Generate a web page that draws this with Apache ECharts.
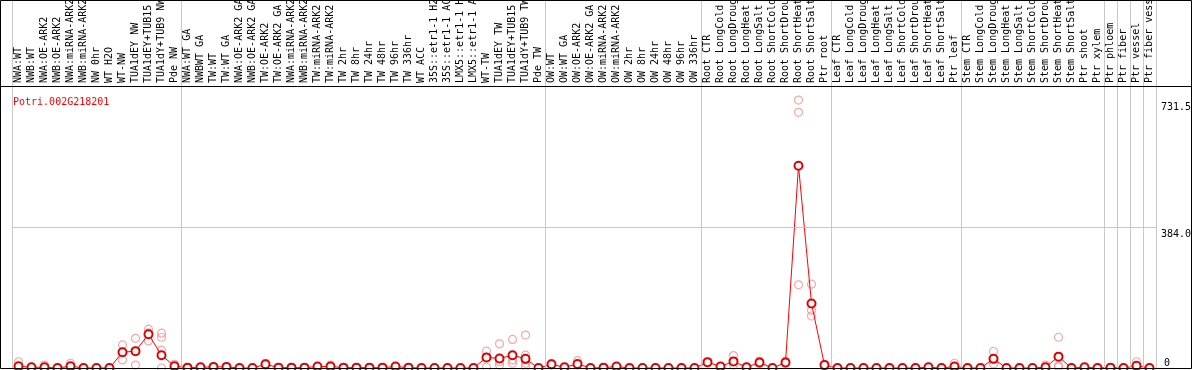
<!DOCTYPE html>
<html><head><meta charset="utf-8">
<script src="https://cdn.jsdelivr.net/npm/echarts@6/dist/echarts.min.js"></script>
<style>html,body{margin:0;padding:0;background:#fff}#c{width:1194px;height:370px}</style>
</head><body><div id="c"></div>
<script>
const geneId = 'Potri.002G218201';
const categories = [
  'NWA:WT','NWB:WT','NWA:OE-ARK2','NWB:OE-ARK2','NWA:miRNA-ARK2','NWB:miRNA-ARK2','NW 0hr','WT H2O','WT-NW','TUA1dEY NW','TUA1dEY+TUB15 NW','TUA1dY+TUB9 NW','Pde NW',
  'NWA:WT GA','NWBWT GA','TW:WT','TW:WT GA','NWA:OE-ARK2 GA','NWB:OE-ARK2 GA','TW:OE-ARK2','TW:OE-ARK2 GA','NWA:miRNA-ARK2 GA','NWB:miRNA-ARK2 GA','TW:miRNA-ARK2','TW:miRNA-ARK2',
  'TW 2hr','TW 8hr','TW 24hr','TW 48hr','TW 96hr','TW 336hr','WT ACC','35S::etr1-1 H2O','35S::etr1-1 ACC','LMX5::etr1-1 H2O','LMX5::etr1-1 ACC','WT-TW','TUA1dEY TW','TUA1dEY+TUB15 TW','TUA1dY+TUB9 TW','Pde TW',
  'OW:WT','OW:WT GA','OW:OE-ARK2','OW:OE-ARK2 GA','OW:miRNA-ARK2','OW:miRNA-ARK2','OW 2hr','OW 8hr','OW 24hr','OW 48hr','OW 96hr','OW 336hr',
  'Root CTR','Root LongCold','Root LongDrought','Root LongHeat','Root LongSalt','Root ShortCold','Root ShortDrought','Root ShortHeat','Root ShortSalt','Ptr root',
  'Leaf CTR','Leaf LongCold','Leaf LongDrought','Leaf LongHeat','Leaf LongSalt','Leaf ShortCold','Leaf ShortDrought','Leaf ShortHeat','Leaf ShortSalt','Ptr leaf',
  'Stem CTR','Stem LongCold','Stem LongDrought','Stem LongHeat','Stem LongSalt','Stem ShortCold','Stem ShortDrought','Stem ShortHeat','Stem ShortSalt','Ptr shoot','Ptr xylem',
  'Ptr phloem','Ptr fiber','Ptr vessel','Ptr fiber vessel'
];
const groupSizes = [13, 28, 12, 10, 10, 11, 1, 1, 1, 1];
const meanValues = [
  5,2,2,0,5,0,0,0,43,46,92,35,5,
  1,2,3,3,0,0,10,1,1,1,4,4,1,1,1,1,4,1,0,0,0,0,0,29,26,35,25,0,
  10,2,11,0,1,4,0,0,0,0,0,0,
  16,4,18,2,15,0,15,552,176,8,
  0,0,0,0,0,0,0,2,0,4,
  0,0,25,0,0,0,2,31,0,2,0,
  1,0,6,0
];
const replicateValues = [
  [17,2,0],[2,1],[8,0],[0],[13,3,0],[0],[0],[0],[63,45,22],[81,46,8],[106,96,74],[95,84,49,0],[10,3],
  [1],[2],[3],[3],[0],[0],[12,8],[1],[1],[1],[4],[8,1],[1],[1],[1],[1],[4],[1],[0],[0],[0],[0],[0],[46,29,2],[66,17,8],[78,22,13],[90,35,22,13,4],[0],
  [12,8],[2],[20,8],[0],[1],[4],[0],[0],[0],[0],[0],[0],
  [16,14],[4],[34,18,8],[2],[19,12],[0],[19,12],[731.5,698,227],[229,158,142],[10,4],
  [0],[0],[0],[0],[0],[0],[0],[2],[0],[13,0],
  [0],[0],[45,25,11],[0],[0],[0],[8,0],[84,6,3],[0],[2],[0],
  [1],[0],[17,2],[0]
];
const yTickValues = [384, 731.5];
const yTickLabels = ['384.0', '731.5'];
const yZeroLabel = '0';
const yMax = 770;

const FONT = 'DejaVu Sans Mono';
const boundaries = [0];
groupSizes.forEach(s => boundaries.push(boundaries[boundaries.length - 1] + s));
const repData = [];
replicateValues.forEach((arr, i) => arr.forEach(v => repData.push([i, v])));

const chart = echarts.init(document.getElementById('c'), null, {renderer: 'canvas'});
chart.setOption({
  animation: false,
  backgroundColor: '#fff',
  title: {text: geneId, left: 8, top: 92, textStyle: {color: '#ff0000', fontFamily: FONT, fontSize: 10, fontWeight: 'normal'}},
  grid: [
    {left: 12, right: 38, top: 86, bottom: 2, containLabel: false, outerBoundsMode: 'none'},
    {left: 12, right: 38, top: 0, bottom: 2, containLabel: false, outerBoundsMode: 'none'}
  ],
  xAxis: [
    {type: 'category', gridIndex: 0, position: 'top', data: categories, boundaryGap: true,
     axisLine: {show: true, lineStyle: {color: '#000', width: 1}}, axisTick: {show: false}, splitLine: {show: false},
     axisLabel: {rotate: 90, interval: 0, margin: 3, fontFamily: FONT, fontSize: 10, color: '#000', hideOverlap: false}},
    {type: 'value', gridIndex: 1, min: 0, max: categories.length, show: false}
  ],
  yAxis: [
    {type: 'value', gridIndex: 0, min: 0, max: yMax, position: 'right',
     axisLine: {show: false}, axisTick: {show: false}, splitLine: {show: false},
     axisLabel: {customValues: yTickValues, formatter: v => yTickLabels[yTickValues.indexOf(v)] || '', verticalAlign: 'top', align: 'left', margin: 5, padding: [2, 0, 0, 0], fontFamily: FONT, fontSize: 10, color: '#000'}},
    {type: 'value', gridIndex: 0, min: 0, max: yMax, position: 'right',
     axisLine: {show: false}, axisTick: {show: false}, splitLine: {show: false},
     axisLabel: {customValues: [0], formatter: () => yZeroLabel, verticalAlign: 'bottom', align: 'left', margin: 8, fontFamily: FONT, fontSize: 10, color: '#000'}},
    {type: 'value', gridIndex: 1, min: 0, max: 1, show: false}
  ],
  graphic: [
    {type: 'rect', z: 100, silent: true, shape: {x: 0.5, y: 0.5, width: 1191, height: 368}, style: {fill: 'none', stroke: '#000', lineWidth: 1}},
    {type: 'line', z: 100, silent: true, shape: {x1: 0, y1: 86.5, x2: 1191, y2: 86.5}, style: {stroke: '#000', lineWidth: 1}}
  ],
  series: [
    {type: 'line', xAxisIndex: 1, yAxisIndex: 2, data: [[0, 0]], showSymbol: false, lineStyle: {width: 0}, silent: true, z: 1,
     markLine: {silent: true, symbol: 'none', label: {show: false}, lineStyle: {color: '#c8c8c8', width: 1, type: 'solid'},
       data: boundaries.map(b => ({xAxis: b}))}},
    {type: 'scatter', xAxisIndex: 0, yAxisIndex: 0, data: repData, symbol: 'circle', symbolSize: 8, z: 2,
     itemStyle: {color: 'rgba(0,0,0,0)', borderColor: '#f09494', borderWidth: 1.2}},
    {type: 'line', xAxisIndex: 0, yAxisIndex: 0, data: meanValues, symbol: 'emptyCircle', symbolSize: 8, showAllSymbol: true, z: 3,
     lineStyle: {color: '#ff0000', width: 1}, itemStyle: {color: '#e00000', borderColor: '#e00000', borderWidth: 1.2},
     markLine: {silent: true, symbol: 'none', label: {show: false}, lineStyle: {color: '#c8c8c8', width: 1, type: 'solid'},
       data: [{yAxis: yTickValues[0]}]}}
  ]
});
</script></body></html>
